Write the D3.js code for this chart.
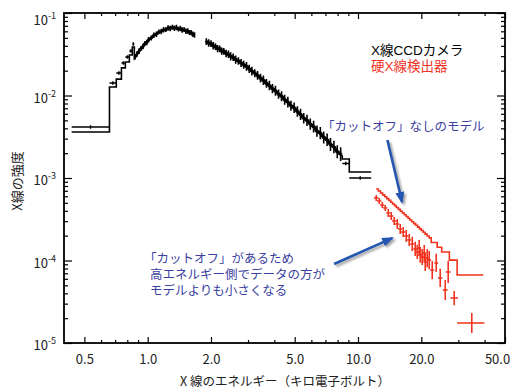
<!DOCTYPE html>
<html lang="ja"><head><meta charset="utf-8">
<script src="https://cdn.jsdelivr.net/npm/d3@7"></script>
<style>
body{margin:0;background:#fff}
svg{display:block}
text{font-family:"Noto Sans CJK JP","Noto Sans",sans-serif}
text.tight{font-family:"Liberation Sans","Noto Sans CJK JP",sans-serif}
</style>
</head><body>
<svg id="c" width="526" height="392" lang="ja"></svg>
<script>
// ---------------- data ----------------
// X-ray CCD camera (black): binned points
const ccdBinLo    = [0.435, 0.658, 0.709, 0.750, 0.783, 0.818, 0.845, 8.42, 9.09];
const ccdBinHi    = [0.658, 0.709, 0.750, 0.783, 0.818, 0.845, 0.864, 9.09, 11.56];
const ccdBinFlux  = [0.00415, 0.0142, 0.0187, 0.0248, 0.0293, 0.0346, 0.0421, 0.00150, 0.00100];
const ccdBinModel = [0.00361, 0.0127, 0.0158, 0.0216, 0.0255, 0.0310, 0.0387, 0.00170, 0.00118];
// dense points 0.87 - 1.67 keV
const ccdAEnergy = [0.87,0.89,0.91,0.93,0.95,0.97,0.99,1.01,1.04,1.07,1.10,1.13,1.16,1.19,1.22,1.25,1.28,1.31,1.34,1.37,1.40,1.43,1.46,1.49,1.52,1.55,1.58,1.61,1.64,1.67];
const ccdAFlux   = [0.0290,0.0318,0.0345,0.0372,0.0392,0.0428,0.0440,0.0475,0.0498,0.0538,0.0552,0.0590,0.0596,0.0625,0.0628,0.0660,0.0650,0.0672,0.0652,0.0665,0.0638,0.0650,0.0622,0.0628,0.0600,0.0605,0.0580,0.0575,0.0552,0.0540];
const ccdAErr    = [0.07,0.08,0.08,0.07,0.08,0.07,0.08,0.08,0.07,0.08,0.08,0.07,0.08,0.08,0.07,0.08,0.08,0.07,0.08,0.08,0.07,0.08,0.08,0.07,0.08,0.08,0.07,0.08,0.08,0.08];
// dense points 1.9 - 8.3 keV
const ccdBEnergy = [1.90,1.95,2.00,2.05,2.10,2.15,2.20,2.25,2.30,2.36,2.42,2.48,2.55,2.62,2.70,2.78,2.86,2.95,3.04,3.13,3.23,3.33,3.44,3.55,3.67,3.79,3.92,4.05,4.19,4.33,4.48,4.64,4.80,4.97,5.15,5.33,5.52,5.72,5.93,6.15,6.38,6.62,6.87,7.13,7.40,7.68,7.97,8.27];
const ccdBFlux   = [0.0450,0.0432,0.0425,0.0400,0.0392,0.0370,0.0368,0.0345,0.0342,0.0322,0.0316,0.0298,0.0290,0.0272,0.0262,0.0248,0.0236,0.0225,0.0210,0.0198,0.0186,0.0175,0.0162,0.0153,0.0140,0.0132,0.0121,0.0114,0.0104,0.0098,0.0089,0.0083,0.0075,0.0071,0.0064,0.0059,0.0053,0.0050,0.0045,0.0042,0.0037,0.0035,0.0031,0.00290,0.00255,0.00238,0.00208,0.00195];
const ccdBErr    = [0.10,0.11,0.10,0.11,0.10,0.11,0.10,0.11,0.10,0.11,0.11,0.12,0.11,0.12,0.11,0.12,0.12,0.13,0.12,0.13,0.12,0.13,0.13,0.14,0.13,0.14,0.14,0.15,0.14,0.15,0.15,0.16,0.15,0.16,0.16,0.17,0.16,0.17,0.17,0.18,0.17,0.19,0.18,0.19,0.20,0.19,0.20,0.21];
// CCD model curves
const ccdModelAE    = [0.864,0.913,0.964,1.018,1.076,1.136,1.200,1.268,1.339,1.414,1.494,1.578,1.667];
const ccdModelAFlux = [0.0285,0.0356,0.0421,0.0484,0.0541,0.0589,0.0622,0.0658,0.0658,0.0640,0.0622,0.0589,0.0541];
const ccdModelBE    = [1.90,2.075,2.314,2.582,2.881,3.11,3.394,3.786,4.225,4.713,5.26,5.87,6.55,7.30,8.15,8.42];
const ccdModelBFlux = [0.0445,0.0398,0.0337,0.0285,0.0235,0.0198,0.0168,0.0130,0.01014,0.00788,0.00614,0.00465,0.00351,0.00266,0.00201,0.00185];

// Hard X-ray detector (red)
const hxdEdges = [12.2,12.5,12.8,13.1,13.4,13.7,14.0,14.3,14.6,14.9,15.2,15.55,15.9,16.25,16.6,16.95,17.3,17.65,18.0,18.4,18.8,19.2,19.6,20.0,20.4,20.85,21.3,21.8,22.3,23.8,25.0,27.2,29.6,39.4];
const hxdModel = [7.37e-4,6.96e-4,6.59e-4,6.24e-4,5.92e-4,5.62e-4,5.35e-4,5.09e-4,4.85e-4,4.62e-4,4.39e-4,4.17e-4,3.96e-4,3.76e-4,3.58e-4,3.41e-4,3.25e-4,3.10e-4,2.95e-4,2.80e-4,2.67e-4,2.54e-4,2.42e-4,2.31e-4,2.20e-4,2.09e-4,1.98e-4,1.88e-4,1.65e-4,1.45e-4,1.27e-4,1.01e-4,6.67e-5];
const hxdEnergy = [12.21,12.62,13.05,13.48,13.93,14.39,14.87,15.37,15.88,16.41,16.96,17.52,18.11,18.71,19.13,19.55,19.77,20.20,20.65,20.88,21.34,21.81,22.54,23.55,24.60,25.99,26.85,28.68,34.75];
const hxdFlux   = [5.72e-4,5.26e-4,4.71e-4,4.33e-4,3.77e-4,3.46e-4,3.01e-4,2.77e-4,2.41e-4,2.22e-4,1.98e-4,1.77e-4,1.585e-4,1.38e-4,1.27e-4,1.42e-4,1.17e-4,1.10e-4,1.23e-4,9.59e-5,1.07e-4,1.01e-4,7.67e-5,9.33e-5,6.14e-5,4.39e-5,7.26e-5,3.51e-5,1.75e-5];
const hxdErr    = [0.09,0.09,0.09,0.09,0.12,0.12,0.12,0.15,0.15,0.15,0.18,0.18,0.22,0.22,0.22,0.25,0.25,0.25,0.25,0.29,0.29,0.29,0.29,0.29,0.29,0.32,0.36,0.22,0.32];
const hxdDE     = [0.3,0.3,0.3,0.3,0.3,0.35,0.35,0.35,0.35,0.4,0.4,0.4,0.4,0.4,0.4,0.4,0.4,0.4,0.45,0.45,0.45,0.45,0.5,0.5,0.6,0.7,0.7,1.2,5.15];

// axis ticks
const xMajor = [0.5,1,2,5,10,20,50];
const xMinor = [0.6,0.7,0.8,0.9,3,4,6,7,8,9,30,40];
const yMajor = [1e-1,1e-2,1e-3,1e-4,1e-5];
const yExp   = ["-1","-2","-3","-4","-5"];
const yMinor = [1e-5,1e-4,1e-3,1e-2].flatMap(d => [2,3,4,5,6,7,8,9].map(k => k*d));

// annotation arrows (data coordinates)
const arrows = [
  {from:[13.8, 2.89e-3], to:[16.2, 5.12e-4]},
  {from:[7.7, 9.08e-5], to:[14.55, 1.87e-4]}
];

// ---------------- drawing ----------------
const svg = d3.select('#c');
const x = d3.scaleLog().domain([0.4,50]).range([64,505]);
const y = d3.scaleLog().domain([1e-5,1e-1]).range([343,13]);
const FONT = '"Noto Sans CJK JP","Noto Sans",sans-serif';
const RED = '#f0321e', BLUE_T = '#3b3fa0', BLUE_A = '#2456b0';

const defs = svg.append('defs');
defs.append('filter').attr('id','sh').attr('x','-50%').attr('y','-50%').attr('width','200%').attr('height','200%')
  .append('feDropShadow').attr('dx',2).attr('dy',2).attr('stdDeviation',1.3)
  .attr('flood-color','#555').attr('flood-opacity',0.55);
defs.append('marker').attr('id','ah').attr('viewBox','0 0 12 9').attr('refX',10).attr('refY',4.5)
  .attr('markerWidth',12).attr('markerHeight',9).attr('markerUnits','userSpaceOnUse').attr('orient','auto')
  .append('path').attr('d','M0,0L12,4.5L0,9Z').attr('fill',BLUE_A);

// axes
function styleAxis(g){
  g.select('.domain').remove();
  g.attr('font-family',FONT);
  g.selectAll('line').attr('stroke','#000').attr('stroke-width',1.2);
}
svg.append('g').attr('transform','translate(0,343)')
  .call(d3.axisBottom(x).tickValues(xMajor).tickSize(-6).tickSizeOuter(0).tickPadding(12).tickFormat(d=>d.toFixed(1)))
  .call(styleAxis)
  .call(g=>g.selectAll('text').attr('font-size',13).attr('fill','#222')
    .attr('dx',d=>d===50?-8:0));
svg.append('g').attr('transform','translate(0,343)')
  .call(d3.axisBottom(x).tickValues(xMinor).tickSize(-3).tickSizeOuter(0).tickFormat(''))
  .call(styleAxis);
svg.append('g').attr('transform','translate(0,13)')
  .call(d3.axisTop(x).tickValues(xMajor).tickSize(-6).tickSizeOuter(0).tickFormat(''))
  .call(styleAxis);
svg.append('g').attr('transform','translate(0,13)')
  .call(d3.axisTop(x).tickValues(xMinor).tickSize(-3).tickSizeOuter(0).tickFormat(''))
  .call(styleAxis);
svg.append('g').attr('transform','translate(64,0)')
  .call(d3.axisLeft(y).tickValues(yMajor).tickSize(-8).tickSizeOuter(0).tickFormat(''))
  .call(styleAxis);
svg.append('g').attr('transform','translate(64,0)')
  .call(d3.axisLeft(y).tickValues(yMinor).tickSize(-4).tickSizeOuter(0).tickFormat(''))
  .call(styleAxis);
svg.append('g').attr('transform','translate(505,0)')
  .call(d3.axisRight(y).tickValues(yMajor).tickSize(-8).tickSizeOuter(0).tickFormat(''))
  .call(styleAxis);
svg.append('g').attr('transform','translate(505,0)')
  .call(d3.axisRight(y).tickValues(yMinor).tickSize(-4).tickSizeOuter(0).tickFormat(''))
  .call(styleAxis);

// y tick labels 10^n
yMajor.forEach((v,i)=>{
  const t = svg.append('text').attr('x',56).attr('y',Math.max(y(v)+7,25))
    .attr('text-anchor','end').attr('font-size',13).attr('fill','#222');
  t.append('tspan').text('10');
  t.append('tspan').attr('dy',-6).attr('font-size',9).text(yExp[i]);
});

// frame
svg.append('rect').attr('x',64).attr('y',13).attr('width',441).attr('height',330)
  .attr('fill','none').attr('stroke','#000').attr('stroke-width',1.8);

// axis titles
svg.append('text').attr('x',285).attr('y',386).attr('text-anchor','middle')
  .attr('font-size',12.5).attr('fill','#222').text('X 線のエネルギー（キロ電子ボルト）');
svg.append('text').attr('transform','translate(16,181) rotate(-90)').attr('text-anchor','middle')
  .attr('dominant-baseline','central').attr('font-size',13).attr('fill','#222').text('X線の強度');

// ---- CCD model (black line) ----
const lineGen = d3.line().x(d=>x(d[0])).y(d=>y(d[1]));
const lowIdx = ccdBinLo.map((d,i)=>i).filter(i=>ccdBinLo[i]<1);
const highIdx = ccdBinLo.map((d,i)=>i).filter(i=>ccdBinLo[i]>=1);
let pA = [];
lowIdx.forEach(i=>{ pA.push([ccdBinLo[i],ccdBinModel[i]]); pA.push([ccdBinHi[i],ccdBinModel[i]]); });
ccdModelAE.forEach((e,i)=>pA.push([e,ccdModelAFlux[i]]));
let pB = ccdModelBE.map((e,i)=>[e,ccdModelBFlux[i]]);
highIdx.forEach(i=>{ pB.push([ccdBinLo[i],ccdBinModel[i]]); pB.push([ccdBinHi[i],ccdBinModel[i]]); });
[pA,pB].forEach(p=>svg.append('path').attr('d',lineGen(p)).attr('fill','none')
  .attr('stroke','#000').attr('stroke-width',1.6));

// ---- CCD data (black crosses) ----
function crossPath(elo,ehi,e,f,err){
  return `M${x(elo)},${y(f)}H${x(ehi)}M${x(e)},${y(f/(1+err))}V${y(f*(1+err))}`;
}
const gCcd = svg.append('g').attr('stroke','#000').attr('stroke-width',1.4).attr('fill','none');
ccdBinLo.forEach((lo,i)=>{
  const hi = ccdBinHi[i], e = Math.sqrt(lo*hi);
  gCcd.append('path').attr('d',crossPath(lo,hi,e,ccdBinFlux[i],0.05));
});
[[ccdAEnergy,ccdAFlux,ccdAErr,2.8],[ccdBEnergy,ccdBFlux,ccdBErr,3.4]].forEach(([E,F,R,w])=>{
  E.forEach((e,i)=>{
    const lo = i>0 ? Math.sqrt(E[i-1]*e) : e*e/Math.sqrt(e*E[i+1]);
    const hi = i<E.length-1 ? Math.sqrt(E[i+1]*e) : e*e/Math.sqrt(e*E[i-1]);
    gCcd.append('path').attr('d',crossPath(lo,hi,e,F[i],R[i])).attr('stroke-width',1.6);
  });
  gCcd.append('path').attr('d',lineGen(E.map((e,i)=>[e,F[i]]))).attr('stroke-width',w);
});

// ---- HXD model (red step) ----
let pR = [];
hxdModel.forEach((v,i)=>{ pR.push([hxdEdges[i],v]); pR.push([hxdEdges[i+1],v]); });
svg.append('path').attr('d',lineGen(pR)).attr('fill','none')
  .attr('stroke',RED).attr('stroke-width',1.6);

// ---- HXD data (red crosses) ----
const gH = svg.append('g').attr('stroke',RED).attr('stroke-width',1.6).attr('fill','none');
hxdEnergy.forEach((e,i)=>{
  gH.append('path').attr('d',crossPath(e-hxdDE[i],e+hxdDE[i],e,hxdFlux[i],hxdErr[i]));
});

// ---- legend ----
svg.append('text').attr('class','tight').attr('x',371).attr('y',54.5).attr('font-size',13.5)
  .attr('fill','#000').text('X線CCDカメラ');
svg.append('text').attr('class','tight').attr('x',371).attr('y',70.5).attr('font-size',13.5)
  .attr('fill',RED).text('硬X線検出器');

// ---- annotations ----
svg.append('text').attr('class','tight').attr('x',322).attr('y',131).attr('font-size',12.5).attr('fill',BLUE_T)
  .text('「カットオフ」なしのモデル');
const ann2 = ['「カットオフ」があるため','高エネルギー側でデータの方が','モデルよりも小さくなる'];
ann2.forEach((s,i)=>svg.append('text').attr('class','tight').attr('x',i===0?144:150).attr('y',263+i*16)
  .attr('font-size',12.5).attr('fill',BLUE_T).text(s));

arrows.forEach(a=>{
  svg.append('line')
    .attr('x1',x(a.from[0])).attr('y1',y(a.from[1]))
    .attr('x2',x(a.to[0])).attr('y2',y(a.to[1]))
    .attr('stroke',BLUE_A).attr('stroke-width',2.6)
    .attr('marker-end','url(#ah)').attr('filter','url(#sh)');
});
</script>
</body></html>
